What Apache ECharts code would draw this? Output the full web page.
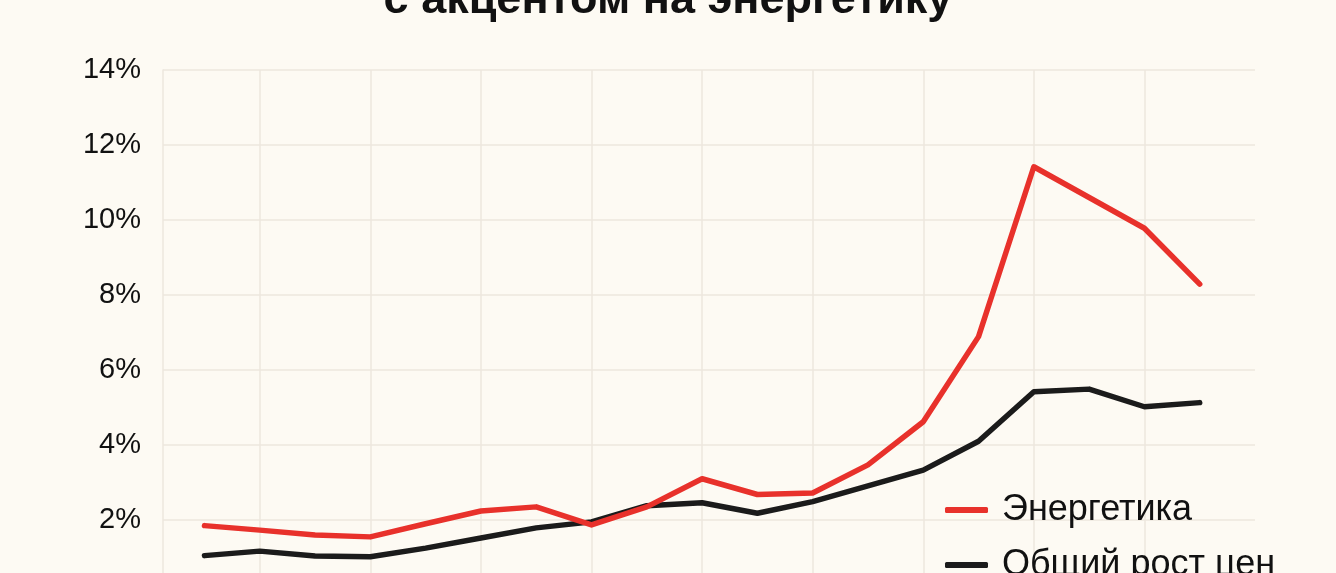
<!DOCTYPE html>
<html lang="ru">
<head>
  <meta charset="UTF-8">
  <title>Инфляция с акцентом на энергетику</title>
  <style>
    html, body { margin: 0; padding: 0; background: #fdfaf3; }
    #chart { width: 1336px; height: 573px; }
  </style>
</head>
<body>
  <div id="chart"></div>
  <script src="https://cdn.jsdelivr.net/npm/echarts@6/dist/echarts.min.js"></script>
  <script>
    // точки по оси X (подписи периодов на снимке обрезаны)
    var steps = [0, 1, 2, 3, 4, 5, 6, 7, 8, 9, 10, 11, 12, 13, 14, 15, 16, 17, 18]
    var energy = [1.85, 1.73, 1.6, 1.55, 1.9, 2.24, 2.35, 1.87, 2.35, 3.1, 2.68, 2.72, 3.47, 4.62, 6.89, 11.42, 10.6, 9.78, 8.29]
    var total = [1.05, 1.17, 1.04, 1.02, 1.25, 1.52, 1.79, 1.95, 2.38, 2.46, 2.18, 2.49, 2.91, 3.33, 4.1, 5.42, 5.49, 5.02, 5.13]
    var yTicks = [0, 2, 4, 6, 8, 10, 12, 14]
    // вертикальные линии сетки — через одну точку
    var gridSteps = [1, 3, 5, 7, 9, 11, 13, 15, 17]

    function pairs(values) {
      return steps.map(function (s, i) { return [s, values[i]] })
    }

    var font = '"Liberation Sans", Arial, sans-serif'
    var gridColor = '#ece7de'

    var myChart = echarts.init(document.getElementById('chart'))
    var option = {
      backgroundColor: '#fdfaf3',
      animation: false,
      title: {
        text: 'с акцентом на энергетику',
        left: 'center',
        top: -27,
        textStyle: { fontFamily: font, fontSize: 45, fontWeight: 'bold', color: '#111', lineHeight: 45 }
      },
      legend: {
        orient: 'vertical',
        left: 945,
        top: 490,
        height: 140,
        padding: 0,
        itemGap: 15,
        itemWidth: 43,
        itemHeight: 6,
        icon: 'roundRect',
        textStyle: { fontFamily: font, fontSize: 36, color: '#111', padding: [0, 0, 0, 9], lineHeight: 40 },
        data: ['Энергетика', 'Общий рост цен']
      },
      grid: { left: 163, right: 81, top: 70, height: 525, containLabel: false, outerBoundsMode: 'none' },
      xAxis: {
        type: 'value',
        min: -0.75,
        max: 19,
        axisLine: { show: false },
        axisTick: { show: false },
        axisLabel: { show: false },
        splitLine: { show: false }
      },
      yAxis: {
        type: 'value',
        min: yTicks[0],
        max: yTicks[yTicks.length - 1],
        interval: 2,
        axisLine: { show: true, onZero: false, lineStyle: { color: gridColor, width: 1.5 } },
        axisTick: { show: false },
        axisLabel: {
          margin: 22,
          padding: [5, 0, 0, 0],
          formatter: '{value}%',
          fontFamily: font,
          fontSize: 29,
          color: '#111'
        },
        splitLine: { lineStyle: { color: gridColor, width: 1.5 } }
      },
      series: [{
        name: 'Энергетика',
        type: 'line',
        data: pairs(energy),
        showSymbol: false,
        color: '#e8312b',
        lineStyle: { width: 5.5, cap: 'round', join: 'round' },
        z: 3
      }, {
        name: 'Общий рост цен',
        type: 'line',
        data: pairs(total),
        showSymbol: false,
        color: '#1b1b1b',
        lineStyle: { width: 5.5, cap: 'round', join: 'round' },
        z: 2,
        markLine: {
          silent: true,
          symbol: 'none',
          label: { show: false },
          lineStyle: { color: gridColor, width: 1.5, type: 'solid' },
          data: gridSteps.map(function (s) { return { xAxis: s } }),
          z: 1
        }
      }]
    }
    myChart.setOption(option)
  </script>
</body>
</html>
